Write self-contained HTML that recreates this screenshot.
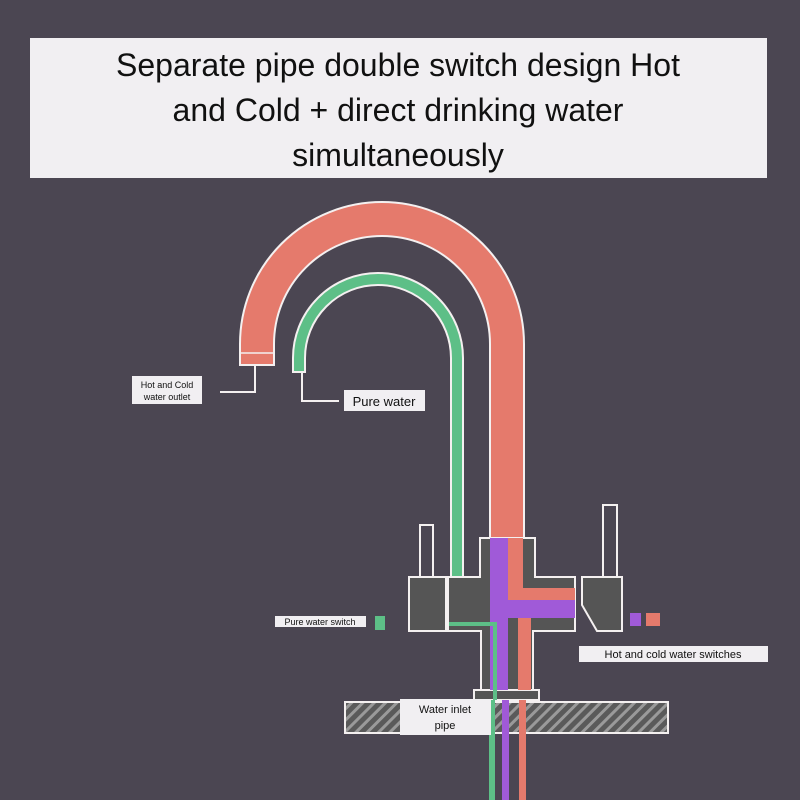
<!DOCTYPE html>
<html><head><meta charset="utf-8"><style>
html,body{margin:0;padding:0;background:#4b4652;}
svg{display:block}
</style></head><body>
<svg width="800" height="800" viewBox="0 0 800 800" xmlns="http://www.w3.org/2000/svg" font-family="Liberation Sans, sans-serif">
<defs>
<pattern id="hatch" width="8" height="8" patternUnits="userSpaceOnUse" patternTransform="rotate(45)">
<rect width="8" height="8" fill="#5a5a5a"/><rect width="3" height="8" fill="#9a9a9a"/>
</pattern>
</defs>
<rect width="800" height="800" fill="#4b4652"/>
<!-- title -->
<rect x="30" y="38" width="737" height="140" fill="#f1eff2"/>
<g font-size="32" fill="#111" text-anchor="middle">
<text x="398" y="76">Separate pipe double switch design Hot</text>
<text x="398" y="121">and Cold + direct drinking water</text>
<text x="398" y="166">simultaneously</text>
</g>
<!-- red spout -->
<path d="M240,365 L240,344 A142,142 0 0 1 524,344 L524,538 L490,538 L490,344 A108,108 0 0 0 274,344 L274,365 Z" fill="#e57a6c" stroke="#f4f0f0" stroke-width="2"/>
<line x1="240" y1="353" x2="274" y2="353" stroke="#f4f0f0" stroke-width="1.5"/>
<!-- green spout -->
<path d="M293,372 L293,358 A85,85 0 0 1 463,358 L463,577 L451,577 L451,358 A73,73 0 0 0 305,358 L305,372 Z" fill="#5dbf87" stroke="#f4f0f0" stroke-width="2"/>
<!-- label lines -->
<polyline points="255,366 255,392 220,392" fill="none" stroke="#f4f0f0" stroke-width="2"/>
<polyline points="302,373 302,401 339,401" fill="none" stroke="#f4f0f0" stroke-width="2"/>
<rect x="132" y="376" width="70" height="28" fill="#f1eff2"/>
<text x="167" y="388" font-size="9" text-anchor="middle" fill="#111">Hot and Cold</text>
<text x="167" y="400" font-size="9" text-anchor="middle" fill="#111">water outlet</text>
<rect x="344" y="390" width="81" height="21" fill="#f1eff2"/>
<text x="384" y="406" font-size="13" text-anchor="middle" fill="#111">Pure water</text>
<!-- handles -->
<rect x="420" y="525" width="13" height="52" fill="#4b4652" stroke="#f4f0f0" stroke-width="2"/>
<rect x="603" y="505" width="14" height="72" fill="#4b4652" stroke="#f4f0f0" stroke-width="2"/>
<!-- blocks -->
<rect x="409" y="577" width="37" height="54" fill="#555" stroke="#f4f0f0" stroke-width="2"/>
<path d="M582,577 L622,577 L622,631 L597,631 L582,605 Z" fill="#555" stroke="#f4f0f0" stroke-width="2"/>
<path d="M480,538 L535,538 L535,577 L575,577 L575,631 L533,631 L533,690 L481,690 L481,631 L448,631 L448,577 L480,577 Z" fill="#555" stroke="#f4f0f0" stroke-width="2"/>
<rect x="474" y="690" width="65" height="10" fill="#555" stroke="#f4f0f0" stroke-width="2"/>
<!-- inner flows -->
<rect x="490" y="538" width="18" height="152" fill="#a05ad8"/>
<rect x="490" y="600" width="85" height="18" fill="#a05ad8"/>
<rect x="508" y="538" width="15" height="62" fill="#e57a6c"/>
<rect x="508" y="588" width="67" height="12" fill="#e57a6c"/>
<rect x="518" y="618" width="13" height="72" fill="#e57a6c"/>
<polyline points="449,624 495,624 495,700" fill="none" stroke="#5dbf87" stroke-width="4"/>
<!-- counter -->
<rect x="345" y="702" width="323" height="31" fill="url(#hatch)" stroke="#f4f0f0" stroke-width="2"/>
<!-- lower pipes -->
<rect x="489" y="700" width="6" height="100" fill="#5dbf87"/>
<rect x="502" y="700" width="7" height="100" fill="#a05ad8"/>
<rect x="519" y="700" width="7" height="100" fill="#e57a6c"/>
<rect x="400" y="699" width="91" height="36" fill="#f1eff2"/>
<text x="445" y="713" font-size="11" text-anchor="middle" fill="#111">Water inlet</text>
<text x="445" y="729" font-size="11" text-anchor="middle" fill="#111">pipe</text>
<!-- switches labels -->
<rect x="630" y="613" width="11" height="13" fill="#a05ad8"/>
<rect x="646" y="613" width="14" height="13" fill="#e57a6c"/>
<rect x="579" y="646" width="189" height="16" fill="#f1eff2"/>
<text x="673" y="658" font-size="11" text-anchor="middle" fill="#111">Hot and cold water switches</text>
<rect x="275" y="616" width="91" height="11" fill="#f1eff2"/>
<text x="320" y="625" font-size="9" text-anchor="middle" fill="#111">Pure water switch</text>
<rect x="375" y="616" width="10" height="14" fill="#5dbf87"/>
</svg>
</body></html>
